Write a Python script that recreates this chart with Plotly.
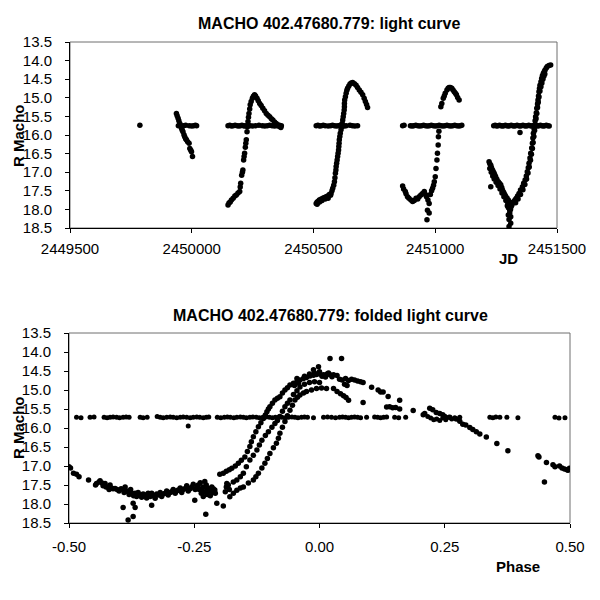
import plotly.graph_objects as go

# ---------------- Top panel: light curve (JD, R mag) ----------------
isolated = [[2449787, 15.74]]

season1_curve = [[2449937, 15.42], [2449940, 15.48], [2449944, 15.55], [2449947, 15.62], [2449951, 15.69],
                 [2449955, 15.76], [2449958, 15.82], [2449961, 15.87], [2449964, 15.91], [2449968, 15.99],
                 [2449971, 16.05], [2449975, 16.10], [2449978, 16.13], [2449983, 16.18], [2449989, 16.22],
                 [2449992, 16.36], [2449996, 16.41], [2449999, 16.45], [2450003, 16.58]]
season1_base = [[2449945, 15.75], [2449952, 15.74], [2449958, 15.76], [2449966, 15.75], [2449975, 15.74],
                [2449990, 15.75], [2450000, 15.76], [2450008, 15.75], [2450015, 15.74], [2450020, 15.75]]

season2_curve = [[2450149, 17.88], [2450153, 17.83], [2450158, 17.80], [2450163, 17.75], [2450170, 17.70],
                 [2450177, 17.64], [2450183, 17.61], [2450190, 17.56], [2450197, 17.52], [2450199, 17.40],
                 [2450201, 17.30], [2450205, 17.08], [2450208, 17.00], [2450210, 16.94], [2450213, 16.67],
                 [2450215, 16.58], [2450217, 16.49], [2450220, 16.33], [2450222, 16.22], [2450224, 16.13],
                 [2450227, 15.91], [2450229, 15.78], [2450231, 15.64], [2450233, 15.52], [2450235, 15.42],
                 [2450238, 15.30], [2450240, 15.19], [2450244, 15.10], [2450249, 15.01], [2450253, 14.96],
                 [2450258, 14.92], [2450262, 14.95], [2450268, 15.01], [2450273, 15.08], [2450279, 15.15],
                 [2450285, 15.21], [2450292, 15.28], [2450299, 15.35], [2450306, 15.42], [2450313, 15.47],
                 [2450320, 15.51], [2450327, 15.56], [2450333, 15.60], [2450340, 15.65], [2450347, 15.69],
                 [2450354, 15.73], [2450360, 15.77], [2450366, 15.80]]
season2_base = [[2450149, 15.75], [2450156, 15.74], [2450163, 15.76], [2450170, 15.75], [2450178, 15.74],
                [2450186, 15.75], [2450193, 15.76], [2450200, 15.75], [2450206, 15.74], [2450212, 15.75],
                [2450218, 15.76], [2450224, 15.75], [2450232, 15.74], [2450240, 15.75], [2450250, 15.76],
                [2450262, 15.75], [2450276, 15.74], [2450290, 15.75], [2450300, 15.76], [2450310, 15.75],
                [2450320, 15.74], [2450330, 15.75], [2450340, 15.76], [2450350, 15.75], [2450360, 15.74],
                [2450368, 15.75]]

season3_curve = [[2450511, 17.84], [2450515, 17.80], [2450520, 17.78], [2450524, 17.75], [2450530, 17.73],
                 [2450538, 17.70], [2450545, 17.68], [2450552, 17.66], [2450558, 17.64], [2450565, 17.60],
                 [2450572, 17.57], [2450576, 17.50], [2450579, 17.43], [2450583, 17.35], [2450586, 17.26],
                 [2450588, 17.15], [2450590, 17.03], [2450592, 16.94], [2450593, 16.85], [2450595, 16.76],
                 [2450597, 16.67], [2450599, 16.58], [2450601, 16.49], [2450603, 16.40], [2450604, 16.31],
                 [2450605, 16.22], [2450606, 16.13], [2450608, 16.04], [2450610, 15.95], [2450613, 15.86],
                 [2450616, 15.78], [2450618, 15.69], [2450620, 15.60], [2450622, 15.51], [2450624, 15.42],
                 [2450626, 15.33], [2450627, 15.24], [2450627, 15.15], [2450628, 15.06], [2450631, 14.97],
                 [2450634, 14.88], [2450637, 14.80], [2450640, 14.74], [2450645, 14.68], [2450650, 14.63],
                 [2450655, 14.60], [2450661, 14.59], [2450668, 14.62], [2450675, 14.66], [2450681, 14.72],
                 [2450688, 14.79], [2450695, 14.85], [2450702, 14.92], [2450708, 15.01], [2450713, 15.10],
                 [2450718, 15.18], [2450722, 15.26],
                 [2450515, 17.86], [2450525, 17.80], [2450535, 17.76], [2450548, 17.72], [2450560, 17.70],
                 [2450570, 17.62]]
season3_base = [[2450511, 15.75], [2450518, 15.74], [2450525, 15.76], [2450532, 15.75], [2450540, 15.74],
                [2450548, 15.75], [2450560, 15.76], [2450570, 15.75], [2450578, 15.74], [2450586, 15.75],
                [2450594, 15.76], [2450602, 15.75], [2450610, 15.74], [2450618, 15.75], [2450626, 15.76],
                [2450634, 15.75], [2450650, 15.74], [2450660, 15.75], [2450670, 15.76], [2450681, 15.75]]

season4_curve = [[2450866, 17.37], [2450870, 17.45], [2450877, 17.52], [2450880, 17.58], [2450886, 17.66],
                 [2450892, 17.70], [2450900, 17.75], [2450907, 17.79], [2450914, 17.76], [2450921, 17.70],
                 [2450928, 17.72], [2450934, 17.66], [2450941, 17.61], [2450948, 17.57], [2450955, 17.52],
                 [2450960, 17.60], [2450964, 17.66], [2450970, 17.75], [2450975, 17.84], [2450968, 18.02],
                 [2450975, 18.10], [2450966, 18.28], [2450980, 17.60], [2450985, 17.50], [2450989, 17.43],
                 [2450993, 17.35], [2450996, 17.26], [2451000, 17.12], [2451003, 16.90], [2451007, 16.67],
                 [2451009, 16.49], [2451012, 16.27], [2451013, 16.05], [2451015, 15.90], [2451023, 15.24],
                 [2451027, 15.15], [2451033, 15.01], [2451037, 14.95], [2451041, 14.88], [2451048, 14.79],
                 [2451053, 14.74], [2451057, 14.72], [2451062, 14.72], [2451068, 14.74], [2451073, 14.79],
                 [2451078, 14.84], [2451083, 14.88], [2451087, 14.92], [2451092, 14.99], [2451098, 15.06]]
season4_base = [[2450866, 15.75], [2450872, 15.74], [2450898, 15.75], [2450905, 15.76], [2450912, 15.75],
                [2450920, 15.74], [2450928, 15.75], [2450936, 15.76], [2450944, 15.75], [2450952, 15.74],
                [2450960, 15.75], [2450968, 15.76], [2450976, 15.75], [2450984, 15.74], [2450992, 15.75],
                [2451000, 15.76], [2451008, 15.75], [2451016, 15.74], [2451024, 15.75], [2451032, 15.76],
                [2451040, 15.75], [2451048, 15.74], [2451056, 15.75], [2451064, 15.76], [2451072, 15.75],
                [2451080, 15.74], [2451088, 15.75], [2451096, 15.76], [2451103, 15.75], [2451109, 15.74]]

season5_curve = [[2451221, 16.72], [2451224, 16.77], [2451228, 16.81], [2451231, 16.88], [2451235, 16.94],
                 [2451238, 16.98], [2451242, 17.03], [2451245, 17.08], [2451248, 17.12], [2451253, 17.19],
                 [2451259, 17.26], [2451264, 17.30], [2451269, 17.34], [2451273, 17.41], [2451276, 17.48],
                 [2451280, 17.53], [2451283, 17.57], [2451287, 17.62], [2451290, 17.66], [2451295, 17.70],
                 [2451300, 17.75], [2451306, 17.84],
                 [2451224, 16.90], [2451230, 17.00], [2451236, 17.10], [2451242, 17.18], [2451250, 17.27],
                 [2451258, 17.36], [2451266, 17.45], [2451274, 17.56], [2451282, 17.66], [2451290, 17.76],
                 [2451298, 17.86], [2451304, 17.93],
                 [2451300, 17.95], [2451303, 17.97], [2451306, 18.02], [2451309, 18.00], [2451312, 17.92],
                 [2451306, 18.10], [2451300, 18.15], [2451310, 18.20], [2451303, 18.27], [2451310, 18.37],
                 [2451303, 18.46], [2451315, 17.88], [2451318, 17.82], [2451296, 17.90], [2451228, 17.39],
                 [2451315, 17.82], [2451320, 17.80], [2451324, 17.79], [2451328, 17.74], [2451333, 17.70],
                 [2451338, 17.64], [2451344, 17.57], [2451350, 17.48], [2451358, 17.39], [2451363, 17.30],
                 [2451369, 17.21], [2451374, 17.10], [2451378, 16.99], [2451382, 16.88], [2451385, 16.76],
                 [2451389, 16.62], [2451392, 16.49], [2451396, 16.35], [2451399, 16.22], [2451401, 16.08],
                 [2451403, 15.95], [2451406, 15.84], [2451408, 15.73], [2451410, 15.62], [2451412, 15.51],
                 [2451415, 15.40], [2451417, 15.28], [2451420, 15.17], [2451422, 15.06], [2451424, 14.95],
                 [2451426, 14.84], [2451428, 14.75], [2451430, 14.66], [2451434, 14.57], [2451437, 14.48],
                 [2451440, 14.41], [2451444, 14.34], [2451448, 14.29], [2451451, 14.25], [2451456, 14.20],
                 [2451460, 14.16], [2451467, 14.13], [2451474, 14.12],
                 [2451330, 17.82], [2451340, 17.72], [2451350, 17.60], [2451360, 17.47], [2451368, 17.33],
                 [2451375, 17.18], [2451381, 17.02], [2451386, 16.86], [2451391, 16.68], [2451395, 16.52],
                 [2451399, 16.36], [2451402, 16.20], [2451405, 16.04], [2451408, 15.88], [2451411, 15.72],
                 [2451414, 15.56], [2451417, 15.42], [2451420, 15.26], [2451423, 15.12], [2451426, 14.98],
                 [2451430, 14.82], [2451434, 14.70], [2451438, 14.60], [2451442, 14.50], [2451446, 14.42],
                 [2451450, 14.36], [2451348, 15.93]]
season5_base = [[2451240, 15.75], [2451246, 15.74], [2451252, 15.76], [2451258, 15.75], [2451264, 15.74],
                [2451270, 15.75], [2451276, 15.76], [2451282, 15.75], [2451288, 15.74], [2451294, 15.75],
                [2451300, 15.76], [2451306, 15.75], [2451312, 15.74], [2451318, 15.75], [2451324, 15.76],
                [2451330, 15.75], [2451336, 15.74], [2451342, 15.75], [2451348, 15.76], [2451354, 15.75],
                [2451360, 15.74], [2451366, 15.75], [2451372, 15.76], [2451378, 15.75], [2451384, 15.74],
                [2451390, 15.75], [2451396, 15.76], [2451402, 15.75], [2451408, 15.74], [2451414, 15.75],
                [2451420, 15.76], [2451426, 15.75], [2451432, 15.74], [2451438, 15.75], [2451444, 15.76],
                [2451450, 15.75], [2451456, 15.74], [2451462, 15.75], [2451468, 15.76]]

# ---------------- Bottom panel: folded light curve (phase, R mag) ----------------
fold_base_phase = [-0.485, -0.476, -0.458, -0.450, -0.430, -0.424, -0.418, -0.412, -0.405, -0.399, -0.392,
                   -0.386, -0.380, -0.358, -0.352, -0.344, -0.324, -0.318, -0.312, -0.305, -0.298, -0.292,
                   -0.285, -0.278, -0.272, -0.265, -0.258, -0.252, -0.245, -0.239, -0.232, -0.226, -0.221,
                   -0.204, -0.197, -0.190, -0.184, -0.178, -0.171, -0.165, -0.158, -0.152, -0.146, -0.139,
                   -0.133, -0.126, -0.120, -0.113, -0.107, -0.100, -0.094, -0.088, -0.081, -0.075, -0.068,
                   -0.062, -0.055, -0.049, -0.043, -0.036, -0.030, -0.024, -0.012, 0.008, 0.016, 0.024,
                   0.032, 0.040, 0.046, 0.052, 0.058, 0.064, 0.070, 0.076, 0.082, 0.094, 0.110, 0.116,
                   0.122, 0.128, 0.134, 0.150, 0.158, 0.172, 0.216, 0.222, 0.228, 0.234, 0.240, 0.246,
                   0.252, 0.258, 0.264, 0.270, 0.280, 0.340, 0.346, 0.352, 0.360, 0.374, 0.396, 0.470,
                   0.478, 0.490, -0.262]
fold_base_mag = [15.72, 15.73, 15.72, 15.71, 15.72, 15.73, 15.72, 15.71, 15.72, 15.73, 15.72,
                 15.71, 15.72, 15.72, 15.73, 15.72, 15.70, 15.72, 15.73, 15.72, 15.71, 15.72,
                 15.73, 15.72, 15.71, 15.72, 15.73, 15.72, 15.71, 15.72, 15.73, 15.72, 15.71,
                 15.72, 15.73, 15.72, 15.71, 15.72, 15.73, 15.72, 15.71, 15.72, 15.73, 15.72,
                 15.71, 15.72, 15.73, 15.72, 15.71, 15.72, 15.73, 15.72, 15.71, 15.72, 15.73,
                 15.72, 15.71, 15.72, 15.73, 15.72, 15.71, 15.72, 15.73, 15.72, 15.71, 15.72,
                 15.73, 15.72, 15.71, 15.72, 15.73, 15.72, 15.71, 15.72, 15.73, 15.72, 15.71, 15.72,
                 15.73, 15.72, 15.71, 15.72, 15.73, 15.72, 15.70, 15.74, 15.78, 15.76, 15.80, 15.74,
                 15.78, 15.72, 15.76, 15.73, 15.72, 15.72, 15.73, 15.71, 15.72, 15.72, 15.73, 15.72,
                 15.74, 15.73, 15.95]

fold_min = [[-0.500, 17.02], [-0.497, 17.05], [-0.491, 17.19], [-0.485, 17.22], [-0.480, 17.28], [-0.461, 17.37],
            [-0.447, 17.50], [-0.445, 17.46], [-0.440, 17.42], [-0.438, 17.39], [-0.434, 17.45], [-0.432, 17.52],
            [-0.428, 17.46], [-0.426, 17.55], [-0.422, 17.55], [-0.420, 17.62], [-0.418, 17.50], [-0.415, 17.58],
            [-0.412, 17.60], [-0.408, 17.59], [-0.404, 17.62], [-0.400, 17.66], [-0.396, 17.60], [-0.392, 17.62],
            [-0.390, 17.70], [-0.388, 17.55], [-0.386, 17.65], [-0.382, 17.68], [-0.380, 17.75], [-0.377, 17.62],
            [-0.374, 17.72], [-0.371, 17.78], [-0.368, 17.72], [-0.365, 17.80], [-0.362, 17.70], [-0.358, 17.76],
            [-0.355, 17.82], [-0.352, 17.74], [-0.348, 17.76], [-0.345, 17.84], [-0.342, 17.72], [-0.338, 17.80],
            [-0.335, 17.72], [-0.332, 17.78], [-0.328, 17.85], [-0.325, 17.74], [-0.322, 17.76], [-0.318, 17.70],
            [-0.315, 17.80], [-0.312, 17.74], [-0.308, 17.72], [-0.305, 17.66], [-0.302, 17.76], [-0.298, 17.70],
            [-0.295, 17.68], [-0.292, 17.62], [-0.288, 17.72], [-0.285, 17.66], [-0.282, 17.63], [-0.278, 17.58],
            [-0.275, 17.70], [-0.272, 17.62], [-0.268, 17.59], [-0.265, 17.52], [-0.262, 17.66], [-0.258, 17.60],
            [-0.255, 17.55], [-0.252, 17.48], [-0.248, 17.62], [-0.245, 17.56], [-0.242, 17.50], [-0.238, 17.44],
            [-0.235, 17.60], [-0.232, 17.55], [-0.229, 17.41], [-0.226, 17.50], [-0.224, 17.62], [-0.222, 17.59],
            [-0.218, 17.66], [-0.215, 17.55], [-0.212, 17.70], [-0.209, 17.63],
            [-0.392, 18.09], [-0.382, 18.42], [-0.372, 18.33], [-0.372, 17.98], [-0.368, 18.09], [-0.335, 18.03],
            [-0.249, 17.90], [-0.227, 18.27], [-0.205, 17.98], [-0.192, 18.05],
            [-0.240, 17.62], [-0.236, 17.72], [-0.232, 17.80], [-0.228, 17.68], [-0.224, 17.75], [-0.218, 17.78],
            [-0.212, 17.60], [-0.208, 17.72], [-0.186, 17.55], [-0.188, 17.68], [-0.180, 17.62]]

fold_rise_a = [[-0.199, 17.22], [-0.192, 17.19], [-0.186, 17.14], [-0.180, 17.10], [-0.175, 17.06], [-0.168, 17.00],
               [-0.162, 16.93], [-0.156, 16.85], [-0.149, 16.76], [-0.144, 16.62], [-0.139, 16.49], [-0.136, 16.36],
               [-0.132, 16.23], [-0.127, 16.10], [-0.122, 15.97], [-0.117, 15.86], [-0.112, 15.75], [-0.108, 15.66],
               [-0.105, 15.57], [-0.102, 15.50], [-0.099, 15.44], [-0.094, 15.35], [-0.089, 15.26], [-0.084, 15.22],
               [-0.079, 15.18], [-0.074, 15.08], [-0.069, 15.00], [-0.064, 14.94], [-0.059, 14.87], [-0.052, 14.82],
               [-0.045, 14.78], [-0.039, 14.74], [-0.032, 14.70], [-0.026, 14.67], [-0.019, 14.63], [-0.012, 14.61],
               [-0.006, 14.59], [0.001, 14.58], [0.008, 14.60], [0.015, 14.58], [0.021, 14.60], [0.028, 14.60],
               [-0.030, 14.64], [-0.020, 14.58], [-0.010, 14.55], [0.000, 14.52], [0.005, 14.64], [0.012, 14.66],
               [0.018, 14.55], [0.025, 14.65], [0.035, 14.62], [0.040, 14.72], [-0.012, 14.47], [-0.002, 14.39],
               [0.021, 14.17], [0.044, 14.17], [-0.045, 14.70], [-0.050, 14.88], [-0.042, 14.82]]

fold_rise_b = [[-0.185, 17.46], [-0.182, 17.50], [-0.172, 17.42], [-0.165, 17.37], [-0.158, 17.28], [-0.152, 17.19],
               [-0.146, 17.02], [-0.139, 16.84], [-0.132, 16.72], [-0.125, 16.58], [-0.120, 16.45], [-0.115, 16.32],
               [-0.108, 16.20], [-0.102, 16.10], [-0.095, 15.98], [-0.089, 15.88], [-0.084, 15.80], [-0.079, 15.70],
               [-0.074, 15.56], [-0.069, 15.44], [-0.064, 15.35], [-0.059, 15.26], [-0.052, 15.12], [-0.045, 15.02],
               [-0.039, 14.92], [-0.030, 14.85], [-0.020, 14.80], [-0.010, 14.78], [0.000, 14.80]]

fold_rise_c = [[-0.179, 17.81], [-0.172, 17.72], [-0.165, 17.64], [-0.158, 17.58], [-0.152, 17.55], [-0.142, 17.45],
               [-0.132, 17.37], [-0.127, 17.28], [-0.122, 17.19], [-0.115, 17.05], [-0.109, 16.93], [-0.104, 16.80],
               [-0.099, 16.67], [-0.092, 16.52], [-0.086, 16.40], [-0.082, 16.27], [-0.079, 16.14], [-0.074, 15.98],
               [-0.069, 15.83], [-0.064, 15.68], [-0.059, 15.53], [-0.054, 15.40], [-0.049, 15.26], [-0.044, 15.19],
               [-0.039, 15.13], [-0.032, 15.08], [-0.026, 15.04], [-0.016, 15.00], [-0.006, 14.96], [0.004, 14.95],
               [0.014, 14.96], [0.028, 14.96], [0.035, 15.04], [0.042, 15.10], [0.048, 15.15], [0.053, 15.20],
               [0.058, 15.27], [0.087, 15.33]]

fold_decline = [[0.045, 14.74], [0.052, 14.70], [0.058, 14.75], [0.064, 14.72], [0.070, 14.74], [0.076, 14.76],
                [0.082, 14.78], [0.087, 14.80], [0.050, 14.85], [0.055, 14.88],
                [0.104, 14.93], [0.117, 15.00], [0.122, 15.05], [0.127, 15.05], [0.137, 15.17], [0.160, 15.27],
                [0.134, 15.45], [0.140, 15.44], [0.146, 15.47], [0.152, 15.46], [0.160, 15.50], [0.187, 15.54],
                [0.207, 15.65], [0.210, 15.62], [0.220, 15.48], [0.226, 15.52], [0.233, 15.59], [0.240, 15.62],
                [0.246, 15.65], [0.250, 15.70], [0.260, 15.72], [0.273, 15.76], [0.280, 15.82], [0.286, 15.90],
                [0.292, 15.92], [0.300, 15.99], [0.306, 16.04], [0.313, 16.10], [0.320, 16.16], [0.333, 16.24],
                [0.354, 16.41], [0.376, 16.60], [0.436, 16.73], [0.438, 16.76], [0.449, 17.42], [0.453, 16.91],
                [0.466, 16.97], [0.470, 17.02], [0.479, 17.00], [0.484, 17.05], [0.489, 17.08], [0.494, 17.10],
                [0.496, 17.11], [0.499, 17.06]]

x_ticks_top = [2449500, 2450000, 2450500, 2451000, 2451500]
x_ticks_bottom = [-0.50, -0.25, 0.00, 0.25, 0.50]
x_tick_labels_bottom = ["-0.50", "-0.25", "0.00", "0.25", "0.50"]
y_ticks = [13.5, 14.0, 14.5, 15.0, 15.5, 16.0, 16.5, 17.0, 17.5, 18.0, 18.5]
y_tick_labels = ["13.5", "14.0", "14.5", "15.0", "15.5", "16.0", "16.5", "17.0", "17.5", "18.0", "18.5"]

top_sets = [isolated, season1_curve, season1_base, season2_curve, season2_base, season3_curve,
            season3_base, season4_curve, season4_base, season5_curve, season5_base]
bottom_sets = [fold_min, fold_rise_a, fold_rise_b, fold_rise_c, fold_decline]

FONT = "Liberation Sans, Arial, sans-serif"
MK = dict(color="black", size=5.5, symbol="circle", line=dict(width=0))

# page offset (browser body margin) compensation, in pixels
OFF = 8


def px(xp):
    return (xp - OFF) / 600


def py(yp):
    return 1 - (yp - OFF) / 600


fig = go.Figure()
top_x = [p[0] for s in top_sets for p in s]
top_y = [p[1] for s in top_sets for p in s]
fig.add_trace(go.Scatter(x=top_x, y=top_y, mode="markers", marker=MK, xaxis="x", yaxis="y",
                         showlegend=False))
fig.add_trace(go.Scatter(x=fold_base_phase, y=fold_base_mag, mode="markers", marker=dict(MK, size=5),
                         xaxis="x2", yaxis="y2", showlegend=False))
bx = [p[0] for s in bottom_sets for p in s]
by = [p[1] for s in bottom_sets for p in s]
fig.add_trace(go.Scatter(x=bx, y=by, mode="markers", marker=MK, xaxis="x2", yaxis="y2", showlegend=False))

tickfont = dict(family=FONT, size=15, color="black")
axis_common = dict(showgrid=False, zeroline=False, showline=True, linecolor="black", linewidth=1,
                   ticks="outside", ticklen=4, tickcolor="black", tickfont=tickfont, automargin=False,
                   fixedrange=True)

ann_font = dict(family=FONT, size=15, color="black")
title_font = dict(family=FONT, size=16, color="black")

fig.update_layout(
    width=600, height=600, autosize=False,
    margin=dict(l=0, r=0, t=0, b=0, pad=0, autoexpand=False),
    paper_bgcolor="white", plot_bgcolor="white",
    showlegend=False,
    xaxis=dict(axis_common, domain=[px(70), px(557)], range=[2449500, 2451500],
               tickvals=x_ticks_top, ticktext=[str(v) for v in x_ticks_top], anchor="y",
               ticklabelstandoff=3),
    yaxis=dict(axis_common, domain=[py(228), py(42)], range=[18.5, 13.5],
               tickvals=y_ticks, ticktext=y_tick_labels, anchor="x", ticklabelstandoff=10),
    xaxis2=dict(axis_common, domain=[px(69), px(570)], range=[-0.5, 0.5],
                tickvals=x_ticks_bottom, ticktext=x_tick_labels_bottom, anchor="y2",
                ticklabelstandoff=6),
    yaxis2=dict(axis_common, domain=[py(523), py(333)], range=[18.5, 13.5],
                tickvals=y_ticks, ticktext=y_tick_labels, anchor="x2", ticklabelstandoff=10),
    shapes=[
        dict(type="rect", xref="paper", yref="paper", x0=px(70), x1=px(557),
             y0=py(228), y1=py(42), line=dict(color="#6e6e6e", width=1), layer="below"),
        dict(type="rect", xref="paper", yref="paper", x0=px(69), x1=px(570),
             y0=py(523), y1=py(333), line=dict(color="#6e6e6e", width=1), layer="below"),
    ],
    annotations=[
        dict(text="<b>MACHO 402.47680.779: light curve</b>", x=px(329), y=py(24),
             xanchor="center", yanchor="middle",
             xref="paper", yref="paper", showarrow=False, font=title_font),
        dict(text="<b>MACHO 402.47680.779: folded light curve</b>", x=px(330), y=py(315),
             xanchor="center", yanchor="middle",
             xref="paper", yref="paper", showarrow=False, font=title_font),
        dict(text="<b>R Macho</b>", x=px(18), y=py(136), textangle=-90,
             xanchor="center", yanchor="middle",
             xref="paper", yref="paper", showarrow=False, font=ann_font),
        dict(text="<b>R Macho</b>", x=px(18), y=py(428), textangle=-90,
             xanchor="center", yanchor="middle",
             xref="paper", yref="paper", showarrow=False, font=ann_font),
        dict(text="<b>JD</b>", x=px(508), y=py(258),
             xanchor="center", yanchor="middle",
             xref="paper", yref="paper", showarrow=False, font=ann_font),
        dict(text="<b>Phase</b>", x=px(518), y=py(566),
             xanchor="center", yanchor="middle",
             xref="paper", yref="paper", showarrow=False, font=ann_font),
    ],
)

fig.write_html("out.html", config={"displayModeBar": False})
